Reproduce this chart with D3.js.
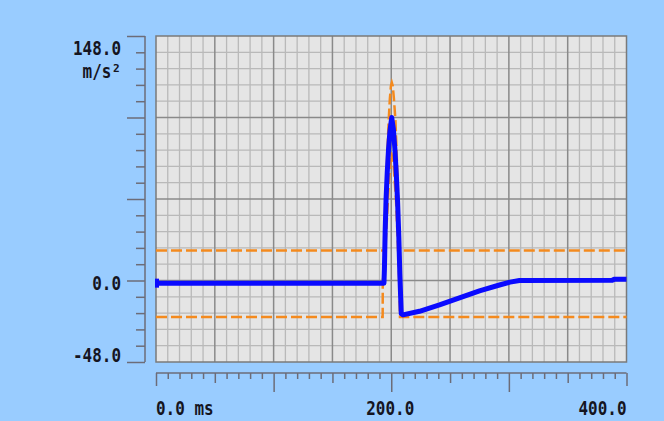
<!DOCTYPE html>
<html><head><meta charset="utf-8">
<script src="https://cdn.jsdelivr.net/npm/d3@7"></script>
<style>
html,body{margin:0;padding:0;background:#99ccff;}
svg{display:block;}
text{font-family:"DejaVu Sans Mono","Liberation Mono",monospace;fill:#15151f;font-weight:bold;}
</style></head>
<body>
<svg id="chart" width="664" height="421"></svg>
<script>
// ---- data (time ms, acceleration m/s²) ----
const measuredT = [0, 193.8, 194.2, 194.8, 195.6, 196.6, 197.7, 198.9, 200.4, 201.8, 203.1, 204.3, 205.4, 206.4, 207.3, 208.5, 210, 224, 241, 258, 275, 292, 301, 309, 388, 390, 400];
const measuredA = [-0.6, -0.6, 8, 30, 50, 66, 80, 91, 99, 92, 80, 65, 48, 28, 5, -19, -19.7, -17.5, -13.7, -9.5, -5.2, -1.7, 0, 1.0, 1.2, 1.8, 1.8];

const upperT = [0, 194.6, 195.2, 196.5, 197.8, 198.8, 199.7, 200.5, 201.3, 202.3, 203.6, 205.5, 206.8, 400];
const upperA = [19, 19, 45, 75, 97, 110, 118, 120, 118, 110, 97, 60, 19, 19];

const lowerT = [0, 192.7, 192.8, 195, 196.5, 198, 200, 202, 204, 205.5, 206.8, 207.4, 400];
const lowerA = [-21, -21, 0, 20, 40, 60, 78, 70, 50, 25, 0, -21, -21];

const yLabels = ["148.0", "0.0", "-48.0"];
const yLabelValues = [148, 0, -48];
const yUnit = "m/s²";
const xLabels = ["0.0 ms", "200.0", "400.0"];
const xLabelValues = [0, 200, 400];

const xDomain = [0, 400];
const yDomain = [-48, 148];

// ---- layout ----
const svg = d3.select("#chart");
const L = 156, R = 626.5, T = 36, B = 362;
const x = d3.scaleLinear().domain(xDomain).range([L, R]);
const y = d3.scaleLinear().domain(yDomain).range([B, T]);

svg.append("rect").attr("x", L).attr("y", T).attr("width", R - L).attr("height", B - T)
  .attr("fill", "#e5e5e5");

// grid
const xMinor = d3.range(10, 400, 10).filter(v => v % 50 !== 0);
const xMajor = d3.range(50, 400, 50);
const yStep = (yDomain[1] - yDomain[0]) / 20;
const yAll = d3.range(21).map(k => yDomain[0] + k * yStep);
const yMinor = yAll.filter((v, k) => k % 5 !== 0);
const yMajor = yAll.filter((v, k) => k % 5 === 0);
const yMajorInner = yMajor.slice(1, -1);

const grid = svg.append("g");
grid.selectAll(".vmin").data(xMinor).join("line")
  .attr("x1", d => x(d)).attr("x2", d => x(d)).attr("y1", T).attr("y2", B)
  .attr("stroke", "#b9b9b9").attr("stroke-width", 1.3);
grid.selectAll(".hmin").data(yMinor).join("line")
  .attr("x1", L).attr("x2", R).attr("y1", d => y(d)).attr("y2", d => y(d))
  .attr("stroke", "#b9b9b9").attr("stroke-width", 1.3);
grid.selectAll(".vmaj").data(xMajor).join("line")
  .attr("x1", d => x(d)).attr("x2", d => x(d)).attr("y1", T).attr("y2", B)
  .attr("stroke", "#8a8a8a").attr("stroke-width", 1.5);
grid.selectAll(".hmaj").data(yMajorInner).join("line")
  .attr("x1", L).attr("x2", R).attr("y1", d => y(d)).attr("y2", d => y(d))
  .attr("stroke", "#8a8a8a").attr("stroke-width", 1.5);

svg.append("rect").attr("x", L).attr("y", T).attr("width", R - L).attr("height", B - T)
  .attr("fill", "none").attr("stroke", "#7a7a7a").attr("stroke-width", 1.5);

// ---- series ----
const line = d3.line().x(d => x(d[0])).y(d => y(d[1]));
const upper = upperT.map((t, i) => [t, upperA[i]]);
const lower = lowerT.map((t, i) => [t, lowerA[i]]);
const meas = measuredT.map((t, i) => [t, measuredA[i]]);

[upper, lower].forEach(s => {
  svg.append("path").datum(s).attr("d", line)
    .attr("fill", "none").attr("stroke", "#f48a1e").attr("stroke-width", 2.5)
    .attr("stroke-dasharray", "11,4");
});
svg.append("path").datum(meas).attr("d", line)
  .attr("fill", "none").attr("stroke", "#0a0aff").attr("stroke-width", 5)
  .attr("stroke-linejoin", "round");
// start marker of the trace
const m0 = meas[0];
svg.append("rect").attr("x", x(m0[0]) - 1).attr("y", y(m0[1]) - 4.5)
  .attr("width", 4).attr("height", 9).attr("fill", "#0a0aff");

// ---- y axis ----
const axX = 145;
const yAxMinor = svg.append("g").attr("transform", `translate(${axX},0)`)
  .call(d3.axisLeft(y).tickValues(yMinor).tickSize(9).tickFormat(""));
const yAxMajor = svg.append("g").attr("transform", `translate(${axX},0)`)
  .call(d3.axisLeft(y).tickValues(yMajor).tickSize(18).tickFormat(""));
[yAxMinor, yAxMajor].forEach(g => {
  g.selectAll("path,line").attr("stroke", "#6c6c78").attr("stroke-width", 1.5);
});
yAxMajor.select(".domain").attr("d", `M0,${T}V${B}`);
yAxMinor.select(".domain").remove();

const yDy = [19, 8, 0];
yLabels.forEach((lab, i) => {
  svg.append("g").attr("transform", `translate(121,${y(yLabelValues[i]) + yDy[i]}) scale(0.84,1)`)
    .append("text").attr("text-anchor", "end").attr("font-size", 19).text(lab);
});
svg.append("g").attr("transform", `translate(121,78) scale(0.84,1)`)
  .append("text").attr("text-anchor", "end").attr("font-size", 19).text(yUnit);

// ---- x axis ----
const axY = 373;
const x10 = d3.range(10, 400, 10).filter(v => v % 50 !== 0);
const x50 = d3.range(50, 400, 100);
const x100 = d3.range(100, 400, 100);
const xEnds = [0, 400];
const mk = (vals, size) => {
  const g = svg.append("g").attr("transform", `translate(0,${axY})`)
    .call(d3.axisBottom(x).tickValues(vals).tickSize(size).tickFormat(""));
  g.selectAll("path,line").attr("stroke", "#6c6c78").attr("stroke-width", 1.5);
  return g;
};
const gx1 = mk(x10, 6);
gx1.select(".domain").attr("d", `M${L},0H${R}`);
mk(x50, 10).select(".domain").remove();
mk(x100, 19).select(".domain").remove();
mk(xEnds, 13).select(".domain").remove();

const xAnchor = ["start", "middle", "end"];
const xDx = [0, -1, 0];
xLabels.forEach((lab, i) => {
  svg.append("g").attr("transform", `translate(${x(xLabelValues[i]) + xDx[i]},415) scale(0.84,1)`)
    .append("text").attr("text-anchor", xAnchor[i]).attr("font-size", 19).text(lab);
});
</script>
</body></html>
